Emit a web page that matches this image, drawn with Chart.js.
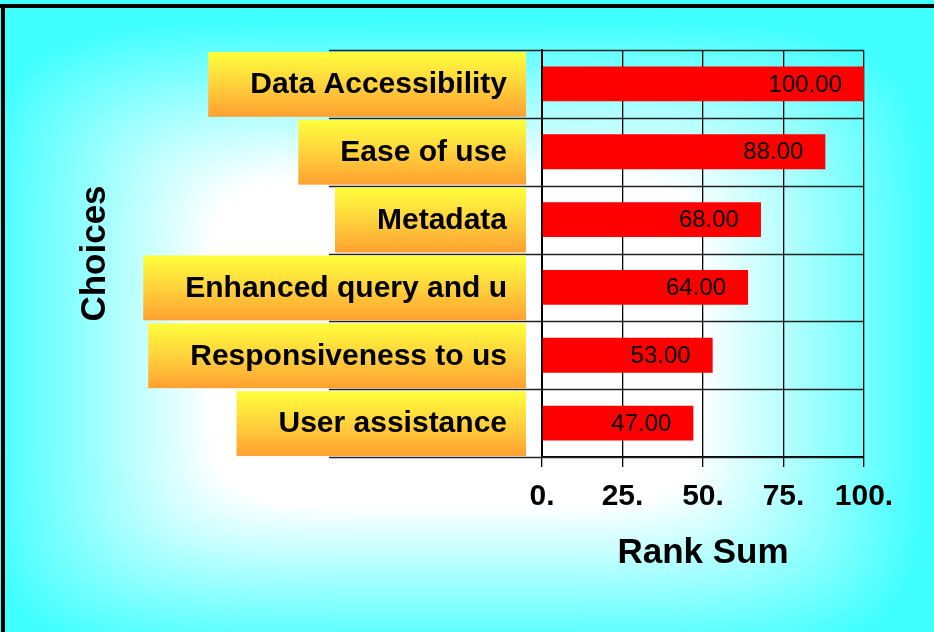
<!DOCTYPE html>
<html>
<head>
<meta charset="utf-8">
<script src="https://cdn.jsdelivr.net/npm/chart.js@4"></script>
<style>
  html, body { margin: 0; padding: 0; background: #fff; }
  #wrap { width: 934px; height: 632px; position: relative; }
</style>
</head>
<body>
<div id="wrap"><canvas id="chart" width="934" height="632"></canvas></div>
<script>
// Chart data
const choices = ['Data Accessibility', 'Ease of use', 'Metadata', 'Enhanced query and u', 'Responsiveness to us', 'User assistance'];
const rankSums = [100, 88, 68, 64, 53, 47];
const xTicks = [0, 25, 50, 75, 100];

const FONT = "'Liberation Sans', Arial, sans-serif";

// Background: white centre fading to cyan towards the edges
function makeBackground(w, h) {
    const off = document.createElement('canvas');
    off.width = w;
    off.height = h;
    const octx = off.getContext('2d');
    const img = octx.createImageData(w, h);
    const cx = 455, cy = 340, rx = 470, ry = 318, t0 = 0.52, p = 6;
    for (let y = 0; y < h; y++) {
        for (let x = 0; x < w; x++) {
            const nx = Math.abs(x - cx) / rx;
            const ny = Math.abs(y - cy) / ry;
            const n = Math.pow(Math.pow(nx, p) + Math.pow(ny, p), 1 / p);
            const t = Math.max(0, Math.min(1, (n - t0) / (1 - t0)));
            const i = (y * w + x) * 4;
            img.data[i] = Math.round(255 - t * 191);
            img.data[i + 1] = 255;
            img.data[i + 2] = 255;
            img.data[i + 3] = 255;
        }
    }
    octx.putImageData(img, 0, 0);
    return off;
}

const bgImage = makeBackground(934, 632);

const backgroundPlugin = {
    id: 'background',
    beforeDraw(chart) {
        const ctx = chart.ctx;
        ctx.save();
        ctx.drawImage(bgImage, 0, 0);
        ctx.fillStyle = '#000';
        ctx.fillRect(0, 4, 934, 4);
        ctx.fillRect(1, 4, 4, 628);
        ctx.restore();
    }
};

// Row lines reaching into the label area, the gradient label boxes, and value labels
const labelPlugin = {
    id: 'labelBoxes',
    afterDraw(chart) {
        const ctx = chart.ctx;
        const yScale = chart.scales.y;
        const area = chart.chartArea;
        const step = yScale.getPixelForValue(1) - yScale.getPixelForValue(0);

        ctx.save();
        ctx.strokeStyle = '#222';
        ctx.lineWidth = 1.5;
        for (let i = 0; i <= choices.length; i++) {
            const y = Math.round(yScale.getPixelForValue(i) - step / 2) + 0.5;
            ctx.beginPath();
            ctx.moveTo(329, y);
            ctx.lineTo(area.right, y);
            ctx.stroke();
        }

        ctx.font = 'bold 30px ' + FONT;
        ctx.textAlign = 'right';
        ctx.textBaseline = 'middle';
        choices.forEach((label, i) => {
            const yc = yScale.getPixelForValue(i);
            const top = yc - step / 2 + 2;
            const bottom = yc + step / 2 - 1;
            const textRight = 507;
            const boxRight = 526;
            const boxLeft = textRight - ctx.measureText(label).width - 42;
            const grad = ctx.createLinearGradient(0, top, 0, bottom);
            grad.addColorStop(0, '#ffff3c');
            grad.addColorStop(0.5, '#ffd23c');
            grad.addColorStop(1, '#ffa030');
            ctx.fillStyle = grad;
            ctx.fillRect(boxLeft, top, boxRight - boxLeft, bottom - top);
            ctx.fillStyle = '#000';
            ctx.fillText(label, textRight, yc + 1);
        });

        const meta = chart.getDatasetMeta(0);
        ctx.font = '24px ' + FONT;
        meta.data.forEach((bar, i) => {
            ctx.fillText(rankSums[i].toFixed(2), bar.x - 22, bar.y + 1);
        });
        ctx.restore();
    }
};

new Chart(document.getElementById('chart'), {
    type: 'bar',
    data: {
        labels: choices,
        datasets: [{
            label: 'Rank Sum',
            data: rankSums,
            backgroundColor: '#ff0000',
            borderWidth: 0,
            barPercentage: 0.9,
            categoryPercentage: 0.57
        }]
    },
    options: {
        indexAxis: 'y',
        responsive: false,
        animation: false,
        layout: {
            padding: { top: 50, right: 70, left: 0, bottom: 0 }
        },
        plugins: {
            legend: { display: false },
            tooltip: { enabled: false }
        },
        scales: {
            x: {
                min: 0,
                max: 100,
                afterBuildTicks: scale => {
                    scale.ticks = xTicks.map(v => ({ value: v }));
                },
                afterFit: scale => { scale.height = 175; },
                grid: {
                    color: '#000',
                    lineWidth: 1.3,
                    tickLength: 10,
                    drawTicks: true
                },
                border: { display: true, color: '#000', width: 2 },
                ticks: {
                    color: '#000',
                    padding: 12,
                    font: { family: FONT, size: 30, weight: 'bold' },
                    callback: v => v + '.'
                },
                title: {
                    display: true,
                    text: 'Rank Sum',
                    color: '#000',
                    font: { family: FONT, size: 35, weight: 'bold' },
                    padding: { top: 0, bottom: 58 }
                }
            },
            y: {
                afterFit: scale => { scale.width = 542; },
                grid: { display: false },
                border: { display: true, color: '#000', width: 2 },
                ticks: { display: false },
                title: {
                    display: true,
                    text: 'Choices',
                    color: '#000',
                    font: { family: FONT, size: 35, weight: 'bold' },
                    padding: { top: 74, bottom: 0 }
                }
            }
        }
    },
    plugins: [backgroundPlugin, labelPlugin]
});
</script>
</body>
</html>
